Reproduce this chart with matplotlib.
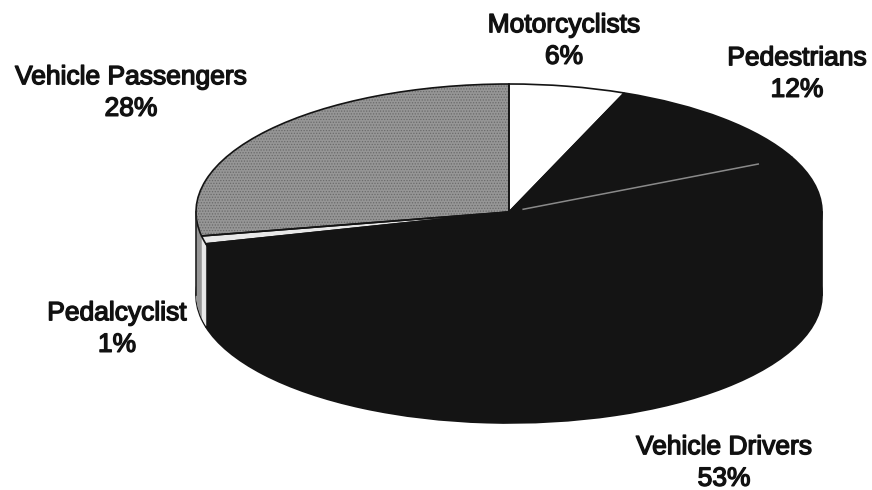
import matplotlib
matplotlib.use("Agg")
import matplotlib.pyplot as plt
import matplotlib.patheffects as pe
import numpy as np

# slices clockwise from twelve o'clock
labels = ["Motorcyclists", "Pedestrians", "Vehicle Drivers", "Pedalcyclist", "Vehicle Passengers"]
values = [6, 12, 53, 1, 28]
colors = ["#ffffff", "#141414", "#141414", "#e8e8e8", "#969696"]

W, H = 872, 490
cx, cy, rx, ry = 509, 212, 313, 128
depth = 83

plt.rcParams["font.family"] = ["Liberation Sans", "DejaVu Sans"]
plt.rcParams["hatch.linewidth"] = 0.6
fig = plt.figure(figsize=(W / 100, H / 100), dpi=100)

# unit circle of this axes is the top ellipse of the pie
ax = fig.add_axes([(cx - rx) / W, 1 - (cy + ry) / H, 2 * rx / W, 2 * ry / H])

# side wall, stacked from the bottom up
for d in np.arange(depth, 0, -1):
    wedges, _ = ax.pie(values, colors=colors, startangle=90, counterclock=False,
                       center=(0, -d / ry), radius=1)
    for w in wedges:
        w.set_clip_on(False)
        w.set_edgecolor("#141414" if d == depth else "none")
        w.set_linewidth(1.2 if d == depth else 0)

# rim line down both sides
ax.plot([-1, -1], [0, -depth / ry], color="#222222", lw=1.2, clip_on=False)
ax.plot([1, 1], [0, -depth / ry], color="#141414", lw=1.2, clip_on=False)

# top face, passengers slice gets a speckle
wedges, _ = ax.pie(values, colors=colors, startangle=90, counterclock=False, radius=1)
for w in wedges:
    w.set_clip_on(False)
wedges[-1].set(hatch="......", edgecolor="#6a6a6a", linewidth=0)

# outlines on top of that
wedges, _ = ax.pie(values, colors=["none"] * len(values), startangle=90, counterclock=False,
                   radius=1, wedgeprops={"edgecolor": "#141414", "linewidth": 1.2})
for w in wedges:
    w.set_clip_on(False)

# pale seam between pedestrians and drivers
a = np.radians(90 - 360 * sum(values[:2]) / sum(values))
ax.plot([0.05 * np.cos(a), 0.88 * np.cos(a)], [0.05 * np.sin(a), 0.88 * np.sin(a)],
        color="#8a8a8a", lw=1.1, clip_on=False)

ax.set_aspect("auto")
ax.set_xlim(-1, 1)
ax.set_ylim(-1, 1)
ax.set_frame_on(False)

# labels, positions in pixels of the picture
label_pos = [(564, 41), (797, 74), (724, 463), (117, 329), (131, 93)]
for name, v, (x, y) in zip(labels, values, label_pos):
    fig.text(x / W, 1 - y / H, f"{name}\n{v}%", ha="center", va="center",
             fontsize=19, linespacing=1.4, color="#111111",
             path_effects=[pe.withStroke(linewidth=1.0, foreground="#111111")])

fig.savefig("out.png", dpi=100)
